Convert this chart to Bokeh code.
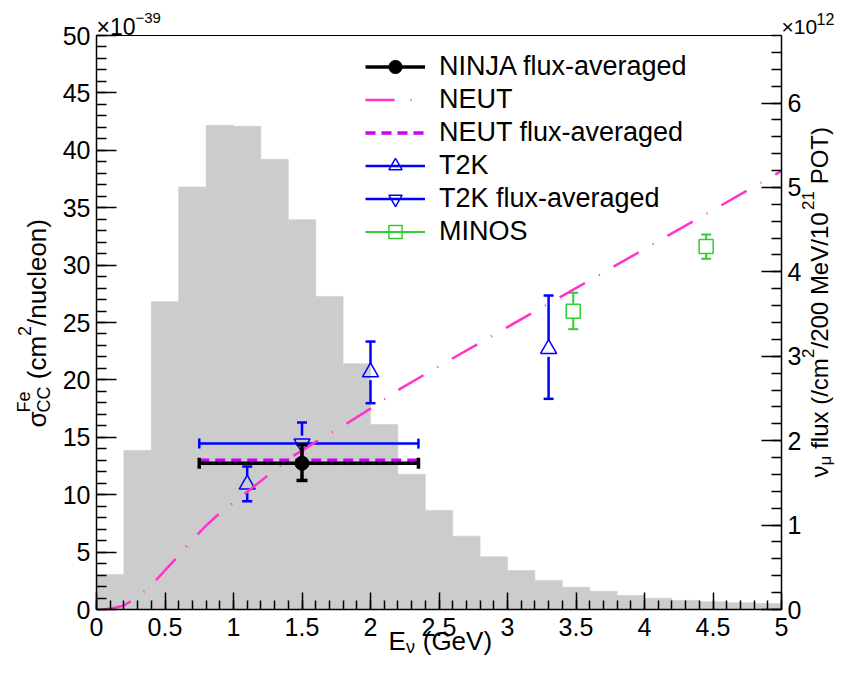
from math import pi
from bokeh.plotting import figure
from bokeh.layouts import column
from bokeh.models import (Range1d, LinearAxis, SingleIntervalTicker, NumeralTickFormatter,
                          Label, Legend, LegendItem)
from bokeh.embed import file_html
from bokeh.resources import INLINE

# ---------------- data ----------------
# numu flux histogram, 0.2 GeV bins, units 1e12 /cm^2/200 MeV/1e21 POT
flux_bin_lo = [0.0, 0.2, 0.4, 0.6, 0.8, 1.0, 1.2, 1.4, 1.6, 1.8, 2.0, 2.2, 2.4,
               2.6, 2.8, 3.0, 3.2, 3.4, 3.6, 3.8, 4.0, 4.2, 4.4, 4.6, 4.8]
flux_bin_hi = [0.2, 0.4, 0.6, 0.8, 1.0, 1.2, 1.4, 1.6, 1.8, 2.0, 2.2, 2.4, 2.6,
               2.8, 3.0, 3.2, 3.4, 3.6, 3.8, 4.0, 4.2, 4.4, 4.6, 4.8, 5.0]
flux_values = [0.415, 1.884, 3.647, 5.005, 5.736, 5.724, 5.333, 4.618, 3.709, 2.912,
               2.192, 1.603, 1.173, 0.869, 0.625, 0.462, 0.344, 0.264, 0.217, 0.166,
               0.134, 0.107, 0.091, 0.079, 0.071]

# NEUT prediction, sigma in 1e-39 cm^2/nucleon
neut_energy = [0.05, 0.1, 0.15, 0.2, 0.3, 0.4, 0.5, 0.6, 0.7, 0.8, 0.9, 1.0, 1.2, 1.4,
               1.6, 1.8, 2.0, 2.2, 2.5, 3.0, 3.5, 4.0, 4.5, 5.0]
neut_xsec = [0.0, 0.08, 0.2, 0.35, 1.1, 2.1, 3.4, 4.7, 6.1, 7.3, 8.4, 9.3, 11.2, 13.1,
             14.6, 16.0, 17.5, 19.1, 21.2, 24.6, 28.0, 31.4, 34.8, 38.2]

ninja_x = [1.5]
ninja_y = [12.74]
ninja_y_lo = [11.24]
ninja_y_hi = [14.37]
ninja_x_lo = [0.75]
ninja_x_hi = [2.35]

neut_avg_y = [13.0]
neut_avg_x_lo = [0.75]
neut_avg_x_hi = [2.35]

t2k_x = [1.1, 2.0, 3.3]
t2k_y = [10.89, 20.67, 22.71]
t2k_y_lo = [9.43, 17.97, 18.35]
t2k_y_hi = [12.46, 23.34, 27.35]

t2k_avg_x = [1.5]
t2k_avg_y = [14.45]
t2k_avg_y_lo = [12.6]
t2k_avg_y_hi = [16.29]
t2k_avg_x_lo = [0.75]
t2k_avg_x_hi = [2.35]

minos_x = [3.48, 4.45]
minos_y = [25.98, 31.62]
minos_y_lo = [24.42, 30.55]
minos_y_hi = [27.59, 32.67]

legend_labels = ["NINJA flux-averaged", "NEUT", "NEUT flux-averaged", "T2K",
                 "T2K flux-averaged", "MINOS"]

# ---------------- styles ----------------
FONT = "Liberation Sans"
GRAY = "#cccccc"
PINK = "#ff33cc"
VIOLET = "#cc00ff"
BLUE = "#0000ff"
GREEN = "#33cc33"
NB = "\u00a0"

W, H = 835, 657
FRAME_W, FRAME_H = 685, 574
Y_MAX = 50.0
PX_PER_Y = FRAME_H / Y_MAX

p = figure(width=W, height=H, x_range=Range1d(0, 5), y_range=Range1d(0, Y_MAX),
           output_backend="svg", toolbar_location=None, title=None,
           min_border_left=96, min_border_right=W - 96 - FRAME_W, min_border_top=35,
           min_border_bottom=H - 35 - FRAME_H)
p.frame_align = False
p.extra_y_ranges = {"flux": Range1d(0, 6.8)}
p.grid.visible = False
p.background_fill_color = "white"
p.border_fill_color = "white"
p.outline_line_color = "black"
p.outline_line_width = 1


def style_axis(ax, major_in, minor_in, standoff):
    ax.major_tick_in = major_in
    ax.major_tick_out = 0
    ax.minor_tick_in = minor_in
    ax.minor_tick_out = 0
    ax.axis_line_color = "black"
    ax.axis_line_width = 1.5
    ax.major_tick_line_width = 1.5
    ax.minor_tick_line_width = 1.5
    ax.major_tick_line_color = "black"
    ax.minor_tick_line_color = "black"
    ax.major_label_text_font = FONT
    ax.major_label_text_font_size = "25px"
    ax.major_label_text_color = "black"
    ax.major_label_standoff = standoff


xa = p.xaxis[0]
xa.ticker = SingleIntervalTicker(interval=0.5, num_minor_ticks=5)
xa.formatter = NumeralTickFormatter(format="0.[0]")
style_axis(xa, 17, 9, 8)

ya = p.yaxis[0]
ya.ticker = SingleIntervalTicker(interval=5, num_minor_ticks=5)
ya.formatter = NumeralTickFormatter(format="0")
style_axis(ya, 20, 10, 6)

ra = LinearAxis(y_range_name="flux", ticker=SingleIntervalTicker(interval=1, num_minor_ticks=5),
                formatter=NumeralTickFormatter(format="0"))
style_axis(ra, 20, 10, 6)
p.add_layout(ra, "right")

# ---------------- histogram ----------------
p.quad(left=flux_bin_lo, right=flux_bin_hi, bottom=0, top=flux_values, y_range_name="flux",
       fill_color=GRAY, line_color=GRAY, line_width=0.6)


def vbars(x, y, lo, hi, gap_px, color, width, cap):
    gap = gap_px / PX_PER_Y
    up = [v + gap for v in y]
    dn = [v - gap for v in y]
    r = p.segment(x0=x, y0=up, x1=x, y1=hi, line_color=color, line_width=width)
    p.segment(x0=x, y0=lo, x1=x, y1=dn, line_color=color, line_width=width)
    p.scatter(x + x, lo + hi, marker="dash", size=cap, line_color=color, line_width=width)
    return r


def hbars(y, xlo, xhi, color, width, cap, dash="solid"):
    r = p.segment(x0=xlo, y0=y, x1=xhi, y1=y, line_color=color, line_width=width, line_dash=dash)
    p.scatter(xlo + xhi, y + y, marker="dash", angle=pi / 2, size=cap,
              line_color=color, line_width=width)
    return r


# T2K
t2k_bar = vbars(t2k_x, t2k_y, t2k_y_lo, t2k_y_hi, 8, BLUE, 2.5, 10)
t2k_mk = p.scatter(t2k_x, t2k_y, marker="triangle", size=16, fill_alpha=0,
                   line_color=BLUE, line_width=1.5)
# T2K flux averaged
t2ka_bar = hbars(t2k_avg_y, t2k_avg_x_lo, t2k_avg_x_hi, BLUE, 2.5, 10)
vbars(t2k_avg_x, t2k_avg_y, t2k_avg_y_lo, t2k_avg_y_hi, 8, BLUE, 2.5, 10)
t2ka_mk = p.scatter(t2k_avg_x, t2k_avg_y, marker="inverted_triangle", size=16, fill_alpha=0,
                    line_color=BLUE, line_width=1.5)
# MINOS
minos_bar = vbars(minos_x, minos_y, minos_y_lo, minos_y_hi, 7.5, GREEN, 2, 10)
minos_mk = p.scatter(minos_x, minos_y, marker="square", size=14, fill_alpha=0,
                     line_color=GREEN, line_width=1.5)
# NEUT
neut_ln = p.line(neut_energy, neut_xsec, line_color=PINK, line_width=2.5, line_dash="29 16 1 16")
# NEUT flux averaged
neuta_ln = p.segment(x0=neut_avg_x_lo, y0=neut_avg_y, x1=neut_avg_x_hi, y1=neut_avg_y,
                     line_color=VIOLET, line_width=3.5, line_dash="10 6")
# NINJA
ninja_bar = hbars(ninja_y, ninja_x_lo, ninja_x_hi, "black", 3.5, 11)
vbars(ninja_x, ninja_y, ninja_y_lo, ninja_y_hi, 0, "black", 3.5, 11)
ninja_mk = p.scatter(ninja_x, ninja_y, marker="circle", size=14, fill_color="black",
                     line_color="black")

# ---------------- legend ----------------
legend_renderers = [[ninja_bar, ninja_mk], [neut_ln], [neuta_ln], [t2k_bar, t2k_mk],
                    [t2ka_bar, t2ka_mk], [minos_bar, minos_mk]]
legend = Legend(items=[LegendItem(label=lab, renderers=rs)
                       for lab, rs in zip(legend_labels, legend_renderers)],
                location=(269, 361), orientation="vertical", glyph_width=60, glyph_height=33,
                label_height=33, spacing=0, padding=0, margin=0, label_standoff=14,
                label_text_font=FONT, label_text_font_size="27px", label_text_color="black",
                border_line_color=None, background_fill_alpha=0)
p.add_layout(legend)

# ---------------- text overlay (pixel coordinates of the figure) ----------------
q = figure(width=W, height=H, x_range=Range1d(0, W), y_range=Range1d(H, 0),
           output_backend="svg", toolbar_location=None, title=None, min_border=0,
           x_axis_type=None, y_axis_type=None)
q.frame_align = False
q.grid.visible = False
q.outline_line_color = None
q.background_fill_alpha = 0
q.border_fill_alpha = 0
q.margin = (-H, 0, 0, 0)

K = 0.3  # correction of the baseline placement, in em


def txt(s, X, Y, size, angle=0.0):
    if angle == 0:
        Y = Y - K * size
    else:
        X = X - K * size
    q.add_layout(Label(x=X, y=Y, text=s, text_font=FONT, text_font_size=f"{size}px",
                       text_align="left", text_baseline="alphabetic", angle=angle,
                       text_color="black"))


# exponents
txt("\u00d710", 96, 33.5, 23)
txt("\u221239", 135, 21.5, 15)
txt("\u00d710", 781, 32.5, 21)
txt("12", 816, 23.5, 16)

# x title
txt("E", 388, 648, 26)
txt("\u03bd", 405.5, 651.5, 18)
txt(NB + "(GeV)", 415, 648, 26)

# left title (rotated)
A = pi / 2
txt("\u03c3", 44.5, 427, 26, A)
txt("CC", 48.5, 412, 18, A)
txt("Fe", 29, 412, 18, A)
txt(NB + "(cm", 44.5, 386, 26, A)
txt("2", 29, 335.5, 18, A)
txt("/nucleon)", 44.5, 325.5, 26, A)

# right title (rotated)
RX = 826
txt("\u03bd", RX, 477, 24, A)
txt("\u03bc", RX + 4.5, 465, 17, A)
txt(NB + "flux (/cm", RX, 455, 24, A)
txt("2", RX - 13, 357.5, 17, A)
txt("/200 MeV/10", RX, 348, 24, A)
txt("21", RX - 13, 209.5, 17, A)
txt(NB + "POT)", RX, 190.5, 24, A)

layout = column(p, q, spacing=0)
open("out.html", "w").write(file_html(layout, INLINE, title="NINJA cross section"))
